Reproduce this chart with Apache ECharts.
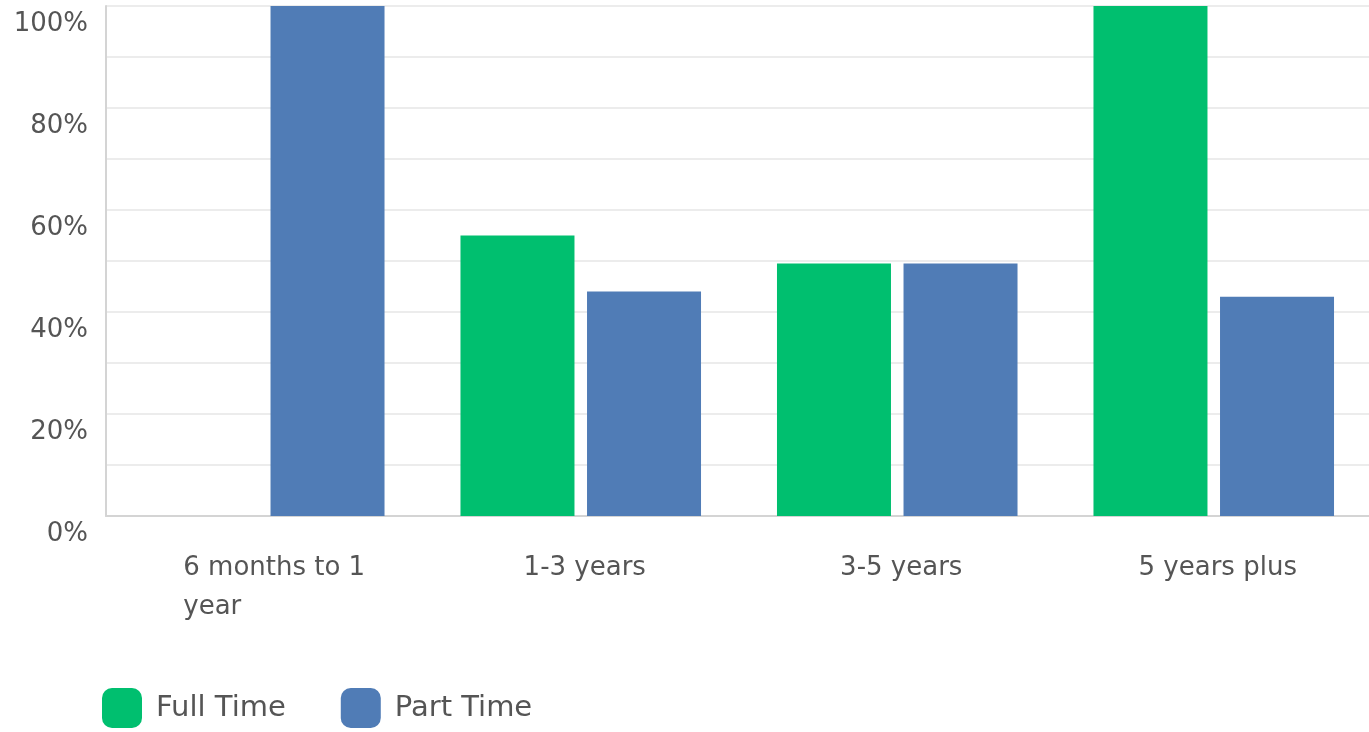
<!DOCTYPE html>
<html>
<head>
<meta charset="utf-8">
<script src="https://cdn.jsdelivr.net/npm/echarts@6/dist/echarts.min.js"></script>
<style>
  html, body { margin: 0; padding: 0; background: #ffffff; }
  #chart { width: 1369px; height: 732px; }
</style>
</head>
<body>
<div id="chart"></div>
<script>
// Tenure groups and the share of respondents in each employment type (%)
const categories = ['6 months to 1\nyear', '1-3 years', '3-5 years', '5 years plus'];
const fullTime = [0, 55, 49.5, 100];
const partTime = [100, 44, 49.5, 43];
const seriesNames = ['Full Time', 'Part Time'];
const yTicks = [0, 20, 40, 60, 80, 100];

const textColor = '#555555';
const font = 'DejaVu Sans';

const chart = echarts.init(document.getElementById('chart'));
chart.setOption({
  animation: false,
  color: ['#00BF6F', '#507CB6'],
  grid: { left: 106, right: -3, top: 6, bottom: 216, containLabel: false, outerBoundsMode: 'none' },
  legend: {
    data: seriesNames,
    left: 102,
    top: 688,
    padding: 0,
    icon: 'roundRect',
    itemWidth: 40,
    itemHeight: 40,
    itemGap: 55,
    itemStyle: { borderRadius: 4 },
    textStyle: { fontFamily: font, fontSize: 29, color: textColor, padding: [0, 0, 0, 9] }
  },
  xAxis: {
    type: 'category',
    data: categories,
    axisLine: { lineStyle: { color: '#d4d4d4', width: 2 } },
    axisTick: { show: false },
    axisLabel: {
      interval: 0,
      margin: 33,
      fontFamily: font,
      fontSize: 26,
      lineHeight: 39,
      color: textColor,
      padding: [0, 0, 0, 8],
      formatter: function (v) {
        if (v.indexOf('\n') >= 0) {
          return v.split('\n').map(function (s) { return '{w|' + s + '}'; }).join('\n');
        }
        return v;
      },
      rich: {
        w: { fontFamily: font, fontSize: 26, lineHeight: 39, color: textColor,
             width: 190, align: 'left', padding: [0, 0, 0, 20] }
      }
    }
  },
  yAxis: {
    type: 'value',
    min: 0,
    max: 100,
    interval: 10,
    axisLine: { show: true, lineStyle: { color: '#d4d4d4', width: 2 } },
    axisTick: { show: false },
    splitLine: { lineStyle: { color: '#ececec', width: 2 } },
    axisLabel: {
      margin: 18,
      fontFamily: font,
      fontSize: 26,
      color: textColor,
      verticalAlign: 'top',
      lineHeight: 36,
      formatter: function (v) { return yTicks.indexOf(v) >= 0 ? v + '%' : ''; }
    }
  },
  series: [
    { name: seriesNames[0], type: 'bar', data: fullTime, barWidth: 114, barGap: '11%' },
    { name: seriesNames[1], type: 'bar', data: partTime, barWidth: 114, barGap: '11%' }
  ]
});
</script>
</body>
</html>
